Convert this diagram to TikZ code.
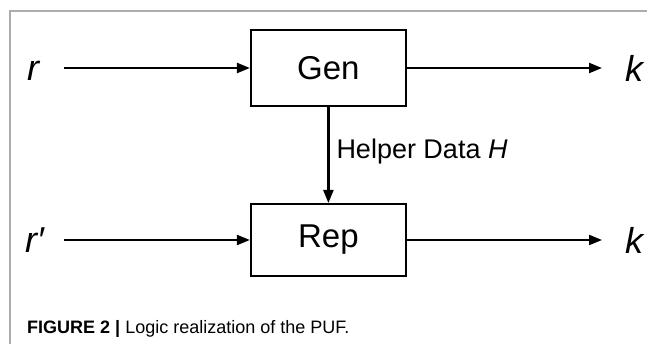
\documentclass[tikz,border=0pt]{standalone}
\usepackage{fontspec}
\setmainfont{Liberation Sans}
\usetikzlibrary{arrows.meta}
\begin{document}
\begin{tikzpicture}[x=1pt,y=-1pt,
  block/.style={draw, line width=2pt, minimum width=155pt, minimum height=76pt,
    inner sep=0pt, font=\fontsize{33}{38}\selectfont},
  flow/.style={line width=2.2pt, -{Triangle[length=13pt,width=10pt]}},
  sym/.style={inner sep=0pt, anchor=base west, font=\fontsize{36}{40}\selectfont\itshape},
  frameline/.style={draw=black!32, line width=1.5pt}]
\useasboundingbox (0,0) rectangle (647,344);
% panel border (left and top edges)
\draw[frameline] (10,344) -- (10,11) -- (647,11);
% the two blocks
\node[block] (gen) at (328.4,68) {Gen};
\node[block, minimum height=72pt] (rep) at (328.4,240) {Rep};
% inputs and outputs
\node[sym] (r) at (27,81) {r};
\node[sym] (r2) at (25,253) {r\char"2032};
\node[sym] (k1) at (625,82) {k};
\node[sym] (k2) at (625,254) {k};
% connectors
\draw[flow, shorten <=25pt] (r.east |- gen.west) -- (gen.west);
\draw[flow, shorten <=25pt] (r.east |- rep.west) -- (rep.west);
\draw[flow, shorten >=23pt] (gen.east) -- (gen.east -| k1.west);
\draw[flow, shorten >=23pt] (rep.east) -- (rep.east -| k2.west);
\draw[flow] (gen.south) -- (rep.north)
  node[pos=0.46, right=7pt, inner sep=0pt, font=\fontsize{27}{32}\selectfont] (hd) {Helper Data \textit{H}};
% caption
\node[anchor=base west, inner sep=0pt, font=\fontsize{18}{21}\selectfont] (cap) at (27,333)
  {\textbf{FIGURE 2 |} Logic realization of the PUF.};
\end{tikzpicture}
\end{document}
